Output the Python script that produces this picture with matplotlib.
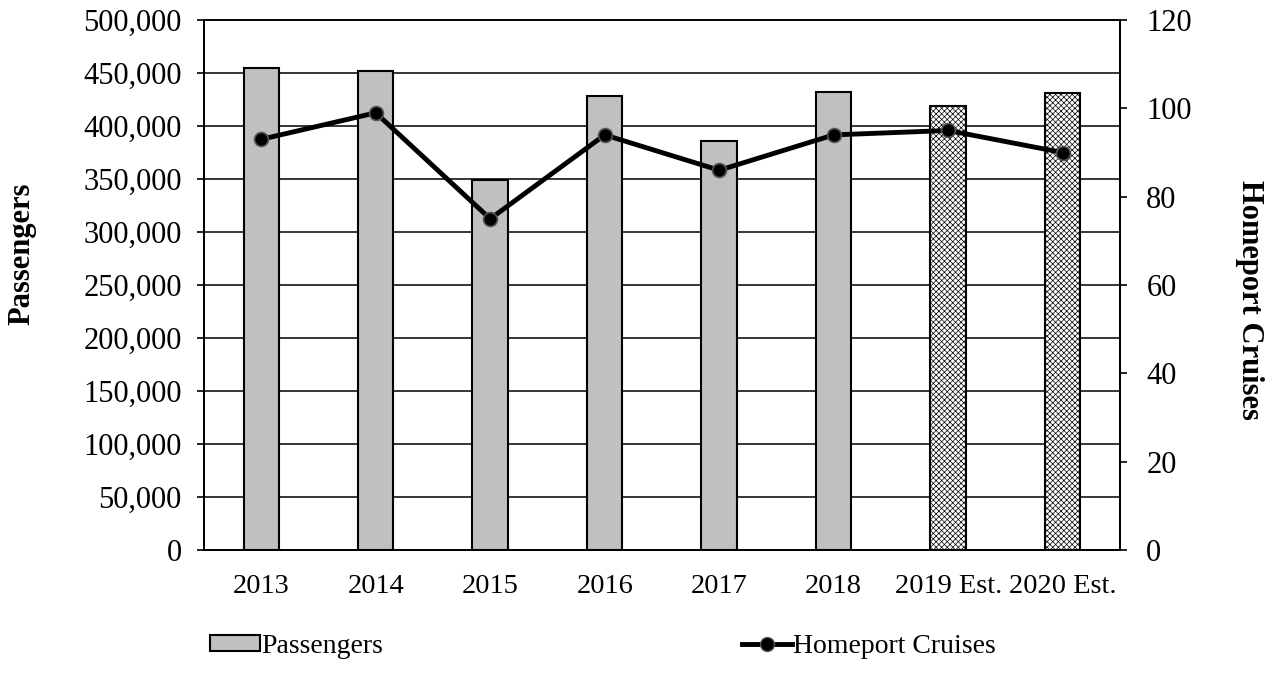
import numpy as np
import matplotlib.pyplot as plt
from matplotlib.patches import Patch
from matplotlib.lines import Line2D
from matplotlib.ticker import FuncFormatter

years = ['2013', '2014', '2015', '2016', '2017', '2018', '2019 Est.', '2020 Est.']
passengers = [454500, 452300, 349500, 428600, 385800, 432400, 418900, 431400]
cruises = [93, 99, 75, 94, 86, 94, 95, 90]
estimated = [False, False, False, False, False, False, True, True]

plt.rcParams['font.family'] = ['Liberation Serif', 'DejaVu Serif']
plt.rcParams['hatch.color'] = '#c4c4c4'
plt.rcParams['hatch.linewidth'] = 0.5

fig = plt.figure(figsize=(12.75, 6.86), dpi=100)
ax1 = fig.add_axes([0.16, 0.198, 0.7184, 0.7728])
ax2 = ax1.twinx()

x = np.arange(len(years))
for i in range(len(years)):
    if estimated[i]:
        ax1.bar(x[i], passengers[i], width=0.31, facecolor='white', edgecolor='black',
                linewidth=1.5, hatch='xxxxxx', zorder=3)
    else:
        ax1.bar(x[i], passengers[i], width=0.31, facecolor='#c0c0c0', edgecolor='black',
                linewidth=1.5, zorder=3)

ax1.set_ylim(0, 500000)
ax1.set_yticks(np.arange(0, 500001, 50000))
ax1.yaxis.set_major_formatter(FuncFormatter(lambda v, p: f'{int(v):,}'))
ax1.set_xlim(-0.5, len(years) - 0.5)
ax1.set_xticks(x)
ax1.set_xticklabels(years)
ax1.grid(axis='y', color='black', linewidth=1.1, zorder=0)
ax1.set_axisbelow(True)
ax1.tick_params(axis='x', length=0, labelsize=20.5, pad=17)
ax1.tick_params(axis='y', labelsize=22, direction='out', length=5, width=1.2, pad=11)

ax2.plot(x, cruises, color='black', linewidth=3.5, marker='o', markersize=10,
         markerfacecolor='black', markeredgecolor='#555555', markeredgewidth=1.2, zorder=5)
ax2.set_ylim(0, 120)
ax2.set_yticks(np.arange(0, 121, 20))
ax2.tick_params(axis='y', labelsize=22, direction='out', length=5, width=1.2, pad=14)

for a in (ax1, ax2):
    for s in a.spines.values():
        s.set_linewidth(1.3)
    a.spines['top'].set_linewidth(1.1)

fig.text(0.017, 0.63, 'Passengers', rotation=90, ha='center', va='center',
         fontsize=22, fontweight='bold')
fig.text(0.98, 0.563, 'Homeport Cruises', rotation=270, ha='center', va='center',
         fontsize=22, fontweight='bold')

h1 = Patch(facecolor='#c0c0c0', edgecolor='black', linewidth=1.5)
h2 = Line2D([0], [0], color='black', linewidth=3.5, marker='o', markersize=10,
            markerfacecolor='black', markeredgecolor='#555555')
fig.legend([h1, h2], ['Passengers', 'Homeport Cruises'], loc='center',
           bbox_to_anchor=(0.473, 0.058), ncol=2, frameon=False, fontsize=20,
           columnspacing=12.9, handlelength=1.8, handleheight=0.5, handletextpad=0.05)

fig.savefig('out.png', dpi=100)
